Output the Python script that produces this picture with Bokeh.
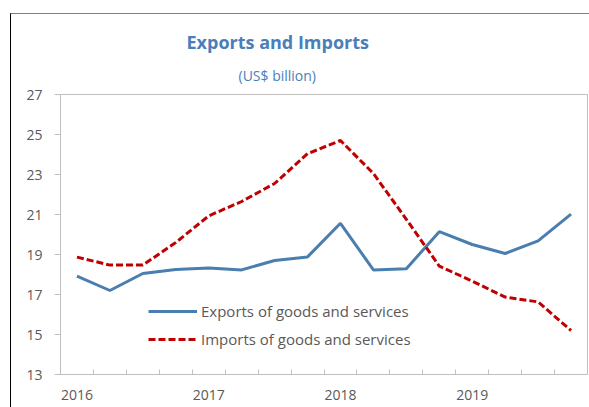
from bokeh.plotting import figure
from bokeh.models import Range1d, FixedTicker, Legend, LegendItem, Title
from bokeh.embed import file_html
from bokeh.resources import INLINE

years = ["2016", "2017", "2018", "2019"]
quarters = list(range(16))
exports = [17.92, 17.2, 18.05, 18.25, 18.33, 18.23, 18.7, 18.88, 20.56, 18.23, 18.29, 20.14, 19.5, 19.05, 19.68, 21.02]
imports = [18.87, 18.47, 18.47, 19.6, 20.93, 21.65, 22.55, 24.04, 24.7, 23.05, 20.76, 18.42, 17.67, 16.87, 16.63, 15.2]
y_ticks = [13, 15, 17, 19, 21, 23, 25, 27]
title_text = "Exports and Imports"
subtitle_text = "(US$ billion)"

FONT = "Open Sans"
GRAY = "#595959"
BLUE_T = "#4A7EBB"

p = figure(width=579, height=394, output_backend="svg", toolbar_location=None, title=None,
           x_range=Range1d(-0.5, 15.5), y_range=Range1d(13, 27),
           min_border_left=49, min_border_right=3, min_border_top=80, min_border_bottom=34)
p.styles = {"margin-left": "10px", "margin-top": "13px",
            "border-top": "1px solid #7f7f7f", "border-left": "1px solid #000000",
            "box-sizing": "border-box"}
p.outline_line_color = "#BFBFBF"
p.outline_line_width = 1
p.grid.visible = False
p.background_fill_color = "white"
p.border_fill_color = "white"

# titles: first added sits closest to the frame
sub = Title(text=subtitle_text, align="left", offset=178, text_font=FONT,
            text_font_size="14px", text_font_style="normal", text_color=BLUE_T, standoff=20)
main = Title(text=title_text, align="left", offset=126, text_font=FONT,
             text_font_size="18px", text_font_style="bold", text_color=BLUE_T, standoff=0)
p.add_layout(sub, "above")
p.add_layout(main, "above")

xa = p.xaxis[0]
xa.ticker = FixedTicker(ticks=[i * 4 for i in range(len(years))],
                        minor_ticks=[i + 0.5 for i in range(-1, 16)])
xa.major_label_overrides = {i * 4: y for i, y in enumerate(years)}
xa.major_tick_in = 0
xa.major_tick_out = 0
xa.minor_tick_in = 5
xa.minor_tick_out = 0
xa.minor_tick_line_color = "#BFBFBF"
xa.axis_line_color = "#BFBFBF"
xa.major_label_text_font = FONT
xa.major_label_text_font_size = "14px"
xa.major_label_text_color = GRAY
xa.major_label_standoff = 15

ya = p.yaxis[0]
ya.ticker = FixedTicker(ticks=y_ticks)
ya.major_tick_in = 0
ya.major_tick_out = 6
ya.minor_tick_line_color = None
ya.major_tick_line_color = "#BFBFBF"
ya.axis_line_color = "#BFBFBF"
ya.major_label_text_font = FONT
ya.major_label_text_font_size = "14px"
ya.major_label_text_color = GRAY
ya.major_label_standoff = 12

r_exp = p.line(quarters, exports, line_color="#4A7EAE", line_width=3)
r_imp = p.line(quarters, imports, line_color="#C00000", line_width=3, line_dash="7 3")

legend = Legend(items=[LegendItem(label="Exports of goods and services", renderers=[r_exp]),
                       LegendItem(label="Imports of goods and services", renderers=[r_imp])],
                location=(88, 25), padding=0, margin=0, spacing=8,
                glyph_width=49, glyph_height=20, label_standoff=4,
                label_text_font=FONT, label_text_font_size="15px", label_text_color=GRAY,
                background_fill_alpha=0, border_line_color=None)
p.add_layout(legend)

open("out.html", "w").write(file_html(p, INLINE))
